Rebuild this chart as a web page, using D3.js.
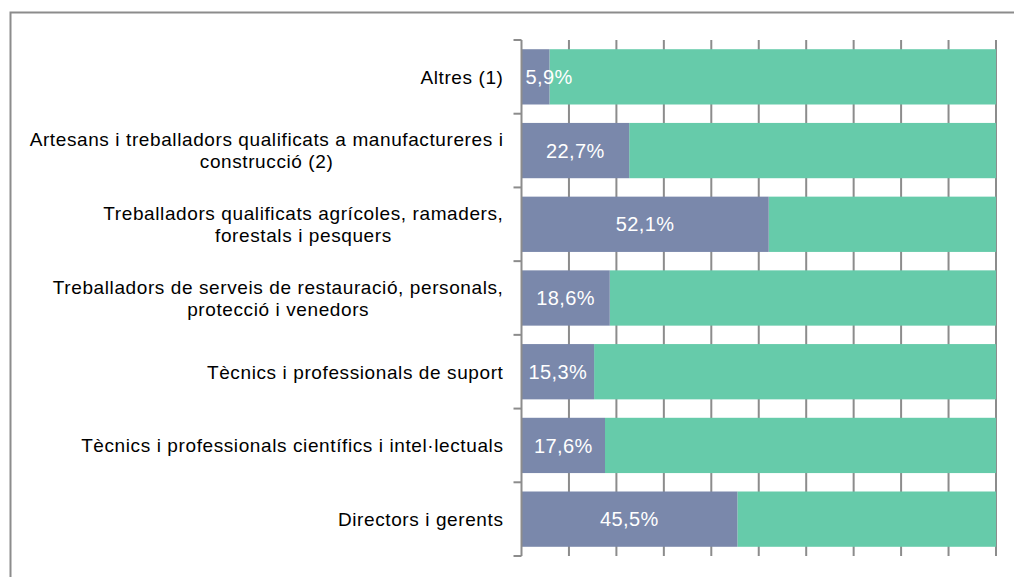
<!DOCTYPE html>
<html>
<head>
<meta charset="utf-8">
<script src="https://cdn.jsdelivr.net/npm/d3@7"></script>
<style>
  body { margin: 0; background: #fff; }
  svg { display: block; }
</style>
</head>
<body>
<svg width="1014" height="577"></svg>
<script>
// categories, top to bottom (each entry = label lines)
var categories = [
    ["Altres (1)"],
    ["Artesans i treballadors qualificats a manufactureres i", "construcció (2)"],
    ["Treballadors qualificats agrícoles, ramaders,", "forestals i pesquers"],
    ["Treballadors de serveis de restauració, personals,", "protecció i venedors"],
    ["Tècnics i professionals de suport"],
    ["Tècnics i professionals científics i intel·lectuals"],
    ["Directors i gerents"]
];
var dones = [5.9, 22.7, 52.1, 18.6, 15.3, 17.6, 45.5];
var homes = [94.1, 77.3, 47.9, 81.4, 84.7, 82.4, 54.5];
var xTicks = [0, 10, 20, 30, 40, 50, 60, 70, 80, 90, 100];

var svg = d3.select("svg"),
    margin = {top: 40, right: 18, bottom: 21, left: 521.5},
    width = 1014 - margin.left - margin.right,
    height = 577 - margin.top - margin.bottom;

// chart frame (left and top edges show)
svg.append("rect")
    .attr("x", 10.5).attr("y", 12.5)
    .attr("width", 1020).attr("height", 600)
    .attr("fill", "none")
    .attr("stroke", "#8c8c8c")
    .attr("stroke-width", 2);

var x = d3.scaleLinear().domain([0, 100]).range([0, width]),
    y = d3.scaleBand().domain(d3.range(categories.length)).range([0, height])
        .paddingInner(0.25).paddingOuter(0.125);

var g = svg.append("g")
    .attr("transform", "translate(" + margin.left + "," + margin.top + ")");

// vertical grid lines
g.append("g")
    .selectAll("line")
    .data(xTicks.slice(1))
    .enter().append("line")
    .attr("x1", function(d) { return x(d); })
    .attr("x2", function(d) { return x(d); })
    .attr("y1", 0).attr("y2", height)
    .attr("stroke", "#8c8c8c")
    .attr("stroke-width", 2);

var rows = g.selectAll(".row")
    .data(categories)
    .enter().append("g")
    .attr("class", "row")
    .attr("transform", function(d, i) { return "translate(0," + y(i) + ")"; });

rows.append("rect")
    .attr("x", function(d, i) { return x(dones[i]); })
    .attr("width", function(d, i) { return x(dones[i] + homes[i]) - x(dones[i]); })
    .attr("height", y.bandwidth())
    .attr("fill", "#66cbaa");

rows.append("rect")
    .attr("x", 0)
    .attr("width", function(d, i) { return x(dones[i]); })
    .attr("height", y.bandwidth())
    .attr("fill", "#7a88ab");

// value labels
rows.append("text")
    .attr("y", y.bandwidth() / 2)
    .attr("dy", "0.36em")
    .attr("text-anchor", "middle")
    .style("font", "20px 'Liberation Sans', Arial, sans-serif")
    .style("letter-spacing", "0.4px")
    .attr("fill", "#fff")
    .text(function(d, i) { return d3.format(".1f")(dones[i]).replace(".", ",") + "%"; })
    .attr("x", function(d, i) {
        var w = this.getComputedTextLength();
        return Math.max(x(dones[i]) / 2, w / 2 + 4);
    });

// left axis line and ticks
var axis = g.append("g").attr("stroke", "#8c8c8c").attr("stroke-width", 2);
axis.append("line")
    .attr("x1", 0).attr("x2", 0).attr("y1", 0).attr("y2", height);
axis.selectAll(".tick")
    .data(d3.range(categories.length + 1))
    .enter().append("line")
    .attr("x1", -8).attr("x2", 0)
    .attr("y1", function(d) { return d * y.step(); })
    .attr("y2", function(d) { return d * y.step(); });

// category labels, lines centered on each other, block right aligned
var lineH = 22;
rows.each(function(lines, i) {
    var t = d3.select(this).append("text")
        .attr("text-anchor", "middle")
        .style("font", "19px 'Liberation Sans', Arial, sans-serif")
        .style("letter-spacing", "0.6px")
        .attr("fill", "#000");
    var spans = t.selectAll("tspan")
        .data(lines)
        .enter().append("tspan")
        .attr("y", function(d, j) { return y.bandwidth() / 2 + (j - (lines.length - 1) / 2) * lineH; })
        .attr("dy", "0.36em")
        .text(function(d) { return d; });
    var maxW = 0;
    spans.each(function() { maxW = Math.max(maxW, this.getComputedTextLength()); });
    spans.attr("x", -18 - maxW / 2);
});
</script>
</body>
</html>
